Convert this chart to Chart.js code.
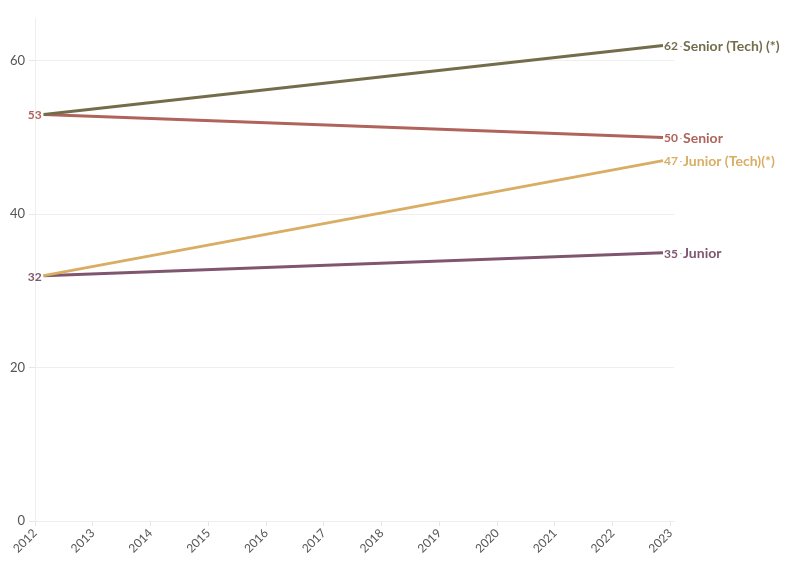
<!DOCTYPE html>
<html>
<head>
<meta charset="utf-8">
<script src="https://cdn.jsdelivr.net/npm/chart.js@4/dist/chart.umd.min.js"></script>
<style>
  html, body { margin: 0; padding: 0; background: #fff; overflow: hidden; }
  #wrap { width: 796px; height: 575px; position: relative; }
</style>
</head>
<body>
<div id="wrap"><canvas id="chart" width="796" height="575"></canvas></div>
<script>
// --- Data ---
const xPoints = [2012.15, 2022.87];
const yearTicks = [2012, 2013, 2014, 2015, 2016, 2017, 2018, 2019, 2020, 2021, 2022, 2023];
const seriesNames = ["Senior (Tech) (*)", "Senior", "Junior (Tech)(*)", "Junior"];
const seniorTech = [53, 62];
const senior = [53, 50];
const juniorTech = [32, 47];
const junior = [32, 35];
const seriesColors = ["#736d4b", "#b0635a", "#d9ad64", "#80566f"];
// which series get a start label (others overlap)
const showStartLabel = [false, true, false, true];

const allValues = [seniorTech, senior, juniorTech, junior];

const datasets = allValues.map((vals, i) => ({
    label: seriesNames[i],
    data: vals.map((v, j) => ({ x: xPoints[j], y: v })),
    borderColor: seriesColors[i],
    borderWidth: 3,
    pointRadius: 0,
    fill: false,
    tension: 0
}));

// --- Plugin: value labels at line ends + series names ---
const endLabels = {
    id: "endLabels",
    afterDatasetsDraw(chart) {
        const { ctx, scales: { x, y } } = chart;
        ctx.save();
        chart.data.datasets.forEach((ds, i) => {
            const first = ds.data[0];
            const last = ds.data[ds.data.length - 1];
            const color = seriesColors[i];
            ctx.textBaseline = "middle";

            if (showStartLabel[i]) {
                ctx.font = "bold 12px Lato, 'Noto Sans', sans-serif";
                ctx.fillStyle = color;
                ctx.textAlign = "right";
                ctx.fillText(String(first.y), x.getPixelForValue(first.x) - 2, y.getPixelForValue(first.y) + 1);
            }

            const ex = x.getPixelForValue(last.x);
            const ey = y.getPixelForValue(last.y);
            ctx.font = "bold 12px Lato, 'Noto Sans', sans-serif";
            ctx.fillStyle = color;
            ctx.textAlign = "left";
            ctx.fillText(String(last.y), ex + 1, ey + 1);
            const w = ctx.measureText(String(last.y)).width;

            // tiny leader tick
            ctx.strokeStyle = "#bbb";
            ctx.lineWidth = 1;
            ctx.beginPath();
            ctx.moveTo(ex + w + 3, ey + 1);
            ctx.lineTo(ex + w + 5, ey + 1);
            ctx.stroke();

            ctx.font = "bold 14px Lato, 'Noto Sans', sans-serif";
            ctx.fillText(ds.label, ex + 20, ey + 1);
        });
        ctx.restore();
    }
};

const ctx = document.getElementById("chart").getContext("2d");
new Chart(ctx, {
    type: "line",
    data: { datasets },
    options: {
        responsive: false,
        animation: false,
        devicePixelRatio: 1,
        layout: { padding: { top: 18, right: 122, left: 0, bottom: 0 } },
        plugins: { legend: { display: false }, tooltip: { enabled: false } },
        scales: {
            x: {
                type: "linear",
                min: yearTicks[0],
                max: yearTicks[yearTicks.length - 1] + 0.06,
                afterBuildTicks(axis) {
                    axis.ticks = yearTicks.map(v => ({ value: v }));
                },
                afterFit(axis) { axis.height = 54; },
                grid: { display: true, drawOnChartArea: false, drawTicks: true, tickLength: 5, tickColor: "#e6e6e6" },
                border: { color: "#eeeeee", width: 1 },
                ticks: {
                    color: "#555",
                    font: { family: "Lato, 'Noto Sans', sans-serif", size: 12 },
                    maxRotation: 45,
                    minRotation: 45,
                    autoSkip: false,
                    padding: 0,
                    callback: v => String(v)
                }
            },
            y: {
                min: 0,
                max: 65.6,
                afterBuildTicks(axis) {
                    axis.ticks = [0, 20, 40, 60].map(v => ({ value: v }));
                },
                afterFit(axis) { axis.width = 35; },
                grid: { color: "#efefef", tickLength: 6, tickColor: "#e6e6e6" },
                border: { color: "#eeeeee", width: 1 },
                ticks: {
                    color: "#555",
                    font: { family: "Lato, 'Noto Sans', sans-serif", size: 13 },
                    padding: 4
                }
            }
        }
    },
    plugins: [endLabels]
});
</script>
</body>
</html>
